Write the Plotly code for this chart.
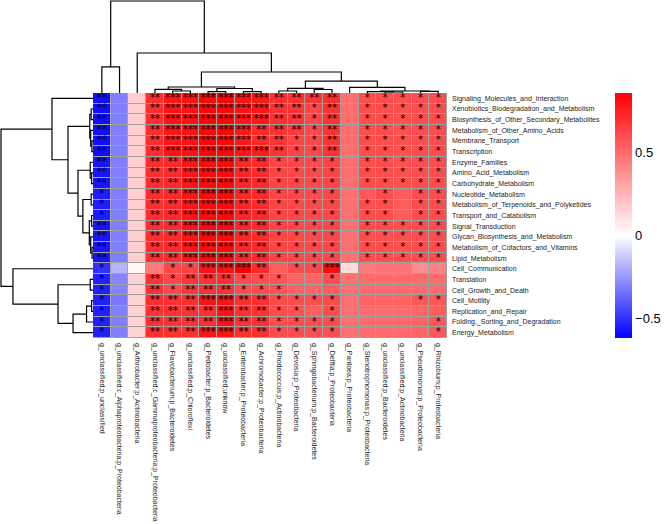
import plotly.graph_objects as go

W, H = 670, 524

col_labels = [
    "g_unclassified;p_unclassified",
    "g_unclassified;c_Alphaproteobacteria;p_Proteobacteria",
    "g_Arthrobacter;p_Actinobacteria",
    "g_unclassified;c_Gammaproteobacteria;p_Proteobacteria",
    "g_Flavobacterium;p_Bacteroidetes",
    "g_unclassified;p_Chloroflexi",
    "g_Pedobacter;p_Bacteroidetes",
    "g_unclassified;unknow",
    "g_Enterobacter;p_Proteobacteria",
    "g_Achromobacter;p_Proteobacteria",
    "g_Rhodococcus;p_Actinobacteria",
    "g_Devosia;p_Proteobacteria",
    "g_Sphingobacterium;p_Bacteroidetes",
    "g_Delftia;p_Proteobacteria",
    "g_Pantoea;p_Proteobacteria",
    "g_Stenotrophomonas;p_Proteobacteria",
    "g_unclassified;p_Bacteroidetes",
    "g_unclassified;p_Actinobacteria",
    "g_Pseudomonas;p_Proteobacteria",
    "g_Rhizobium;p_Proteobacteria",
]

row_labels = [
    "Signaling_Molecules_and_Interaction",
    "Xenobiotics_Biodegradation_and_Metabolism",
    "Biosynthesis_of_Other_Secondary_Metabolites",
    "Metabolism_of_Other_Amino_Acids",
    "Membrane_Transport",
    "Transcription",
    "Enzyme_Families",
    "Amino_Acid_Metabolism",
    "Carbohydrate_Metabolism",
    "Nucleotide_Metabolism",
    "Metabolism_of_Terpenoids_and_Polyketides",
    "Transport_and_Catabolism",
    "Signal_Transduction",
    "Glycan_Biosynthesis_and_Metabolism",
    "Metabolism_of_Cofactors_and_Vitamins",
    "Lipid_Metabolism",
    "Cell_Communication",
    "Translation",
    "Cell_Growth_and_Death",
    "Cell_Motility",
    "Replication_and_Repair",
    "Folding,_Sorting_and_Degradation",
    "Energy_Metabolism",
]

values = [
    [-0.58, -0.31, 0.17, 0.70, 0.79, 0.80, 0.84, 0.84, 0.80, 0.79, 0.70, 0.69, 0.68, 0.70, 0.49, 0.60, 0.60, 0.59, 0.60, 0.60],
    [-0.58, -0.31, 0.17, 0.70, 0.80, 0.80, 0.84, 0.84, 0.80, 0.79, 0.69, 0.68, 0.62, 0.69, 0.49, 0.60, 0.60, 0.59, 0.60, 0.60],
    [-0.58, -0.31, 0.17, 0.70, 0.80, 0.80, 0.84, 0.84, 0.79, 0.78, 0.69, 0.68, 0.62, 0.69, 0.49, 0.60, 0.60, 0.59, 0.60, 0.60],
    [-0.58, -0.31, 0.17, 0.70, 0.79, 0.80, 0.84, 0.84, 0.78, 0.72, 0.69, 0.67, 0.62, 0.69, 0.49, 0.60, 0.60, 0.59, 0.60, 0.60],
    [-0.58, -0.31, 0.17, 0.70, 0.79, 0.80, 0.84, 0.84, 0.78, 0.72, 0.68, 0.63, 0.62, 0.69, 0.49, 0.60, 0.60, 0.59, 0.60, 0.60],
    [-0.58, -0.31, 0.17, 0.70, 0.80, 0.80, 0.84, 0.84, 0.79, 0.77, 0.68, 0.63, 0.62, 0.69, 0.49, 0.60, 0.60, 0.59, 0.60, 0.60],
    [-0.57, -0.31, 0.17, 0.70, 0.72, 0.79, 0.83, 0.83, 0.73, 0.72, 0.63, 0.62, 0.61, 0.63, 0.49, 0.60, 0.60, 0.59, 0.60, 0.60],
    [-0.57, -0.31, 0.17, 0.70, 0.72, 0.79, 0.83, 0.83, 0.73, 0.72, 0.63, 0.62, 0.61, 0.63, 0.49, 0.60, 0.60, 0.59, 0.60, 0.60],
    [-0.57, -0.31, 0.17, 0.70, 0.72, 0.79, 0.83, 0.83, 0.73, 0.72, 0.63, 0.62, 0.61, 0.63, 0.49, 0.60, 0.60, 0.59, 0.60, 0.60],
    [-0.55, -0.31, 0.17, 0.70, 0.72, 0.79, 0.83, 0.83, 0.73, 0.72, 0.63, 0.62, 0.61, 0.62, 0.48, 0.56, 0.60, 0.55, 0.60, 0.60],
    [-0.55, -0.31, 0.17, 0.70, 0.72, 0.79, 0.83, 0.83, 0.73, 0.72, 0.63, 0.62, 0.61, 0.62, 0.48, 0.60, 0.60, 0.55, 0.60, 0.60],
    [-0.55, -0.31, 0.17, 0.70, 0.72, 0.79, 0.83, 0.83, 0.73, 0.72, 0.63, 0.62, 0.61, 0.62, 0.48, 0.60, 0.60, 0.55, 0.60, 0.60],
    [-0.57, -0.31, 0.17, 0.70, 0.72, 0.79, 0.83, 0.83, 0.73, 0.72, 0.63, 0.62, 0.61, 0.62, 0.48, 0.60, 0.60, 0.59, 0.60, 0.60],
    [-0.57, -0.31, 0.17, 0.70, 0.72, 0.79, 0.83, 0.83, 0.73, 0.72, 0.63, 0.62, 0.61, 0.62, 0.48, 0.60, 0.60, 0.59, 0.60, 0.60],
    [-0.57, -0.31, 0.17, 0.70, 0.72, 0.79, 0.83, 0.83, 0.73, 0.72, 0.63, 0.62, 0.61, 0.62, 0.48, 0.60, 0.60, 0.59, 0.60, 0.60],
    [-0.57, -0.31, 0.17, 0.70, 0.72, 0.79, 0.83, 0.83, 0.73, 0.72, 0.63, 0.62, 0.61, 0.62, 0.48, 0.60, 0.60, 0.59, 0.60, 0.60],
    [-0.50, -0.18, 0.03, 0.45, 0.62, 0.63, 0.80, 0.81, 0.86, 0.72, 0.55, 0.60, 0.61, 0.82, 0.12, 0.45, 0.47, 0.47, 0.38, 0.42],
    [-0.54, -0.30, 0.15, 0.69, 0.62, 0.68, 0.69, 0.70, 0.61, 0.60, 0.58, 0.53, 0.52, 0.60, 0.48, 0.50, 0.50, 0.50, 0.50, 0.50],
    [-0.54, -0.30, 0.15, 0.69, 0.61, 0.68, 0.69, 0.70, 0.60, 0.60, 0.58, 0.53, 0.52, 0.55, 0.48, 0.50, 0.50, 0.50, 0.50, 0.50],
    [-0.54, -0.33, 0.15, 0.70, 0.70, 0.70, 0.79, 0.80, 0.70, 0.70, 0.61, 0.60, 0.60, 0.61, 0.48, 0.52, 0.52, 0.52, 0.57, 0.57],
    [-0.54, -0.31, 0.15, 0.69, 0.69, 0.69, 0.70, 0.80, 0.69, 0.69, 0.60, 0.58, 0.54, 0.60, 0.48, 0.50, 0.50, 0.50, 0.52, 0.54],
    [-0.54, -0.31, 0.15, 0.69, 0.69, 0.69, 0.70, 0.80, 0.69, 0.69, 0.60, 0.60, 0.60, 0.60, 0.48, 0.50, 0.50, 0.50, 0.52, 0.57],
    [-0.54, -0.31, 0.15, 0.70, 0.70, 0.70, 0.79, 0.80, 0.70, 0.70, 0.60, 0.60, 0.60, 0.60, 0.48, 0.50, 0.50, 0.50, 0.52, 0.57],
]

# significance marks, "-" = none
star_rows = [
    "** - - ** *** *** *** *** *** *** ** ** ** ** - * * * * *",
    "** - - ** *** *** *** *** *** *** ** ** * ** - * * * * *",
    "** - - ** *** *** *** *** *** *** ** ** * ** - * * * * *",
    "** - - ** *** *** *** *** *** ** ** ** * ** - * * * * *",
    "** - - ** *** *** *** *** *** ** ** * * ** - * * * * *",
    "** - - ** *** *** *** *** *** *** ** * * ** - * * * * *",
    "** - - ** ** *** *** *** ** ** * * * * - * * * * *",
    "** - - ** ** *** *** *** ** ** * * * * - * * * * *",
    "** - - ** ** *** *** *** ** ** * * * * - * * * * *",
    "* - - ** ** *** *** *** ** ** * * * * - - * - * *",
    "* - - ** ** *** *** *** ** ** * * * * - * * - * *",
    "* - - ** ** *** *** *** ** ** * * * * - * * - * *",
    "** - - ** ** *** *** *** ** ** * * * * - * * * * *",
    "** - - ** ** *** *** *** ** ** * * * * - * * * * *",
    "** - - ** ** *** *** *** ** ** * * * * - * * * * *",
    "** - - ** ** *** *** *** ** ** * * * * - * * * * *",
    "* - - - * * *** *** *** ** - * * *** - - - - - -",
    "* - - ** * ** ** ** * * * - - * - - - - - -",
    "* - - ** * ** ** ** * * * - - - - - - - - -",
    "* - - ** ** ** *** *** ** ** * * * * - - - - * *",
    "* - - ** ** ** ** *** ** ** * * - * - - - - - -",
    "* - - ** ** ** ** *** ** ** * * * * - - - - - *",
    "* - - ** ** ** *** *** ** ** * * * * - - - - - *",
]
stars = [["" if s == "-" else s for s in r.split()] for r in star_rows]

# hierarchical merges (R hclust style): negative = leaf (1-based), positive = earlier merge
row_merges = [
    (-2, -3, 0.020), (-5, -6, 0.012), (-4, 2, 0.025), (1, 3, 0.035),
    (-8, -9, 0.015), (-7, 5, 0.030),
    (-10, -11, 0.020), (-12, -13, 0.015), (-15, -16, 0.010), (-14, 9, 0.025),
    (8, 10, 0.040), (7, 11, 0.110), (6, 12, 0.163), (4, 13, 0.272),
    (-1, 14, 0.446),
    (-18, -19, 0.030), (-20, -21, 0.015), (17, -22, 0.070), (18, -23, 0.217),
    (16, 19, 0.380), (-17, 20, 0.870), (15, 21, 1.000),
]
col_merges = [
    (-1, -2, 0.283), (-5, -6, 0.022), (-4, 2, 0.040), (-7, -8, 0.014),
    (-9, -10, 0.014), (4, 5, 0.049), (3, 6, 0.065), (-11, -12, 0.022),
    (-13, -14, 0.038), (8, 9, 0.051), (-17, -18, 0.011), (-16, 11, 0.016),
    (-19, -20, 0.018), (12, 13, 0.022), (-15, 14, 0.062), (10, 15, 0.130),
    (7, 16, 0.228), (-3, 17, 0.435), (1, 18, 1.000),
]


def dendro_segments(merges):
    pos, hgt = {}, {}

    def get(ref):
        if ref < 0:
            return float(-ref - 1), 0.0
        return pos[ref], hgt[ref]

    ps, hs = [], []
    for k, (a, b, h) in enumerate(merges, start=1):
        pa, ha = get(a)
        pb, hb = get(b)
        ps += [pa, pa, pb, pb, None]
        hs += [ha, h, h, hb, None]
        pos[k] = (pa + pb) / 2
        hgt[k] = h
    return ps, hs


FONT = "Liberation Sans, Arial, sans-serif"
zmin, zmax = -0.62, 0.86
white_at = (0 - zmin) / (zmax - zmin)

hm_left, hm_right, hm_top, hm_bottom = 93, 447, 93, 338
nrow, ncol = len(row_labels), len(col_labels)

fig = go.Figure()

fig.add_trace(go.Heatmap(
    z=values, x=list(range(ncol)), y=list(range(nrow)),
    colorscale=[[0, "#0000ff"], [white_at, "#ffffff"], [1, "#ff0000"]],
    zmin=zmin, zmax=zmax, xgap=1, ygap=1,
    colorbar=dict(
        x=615 / W, xanchor="left", xpad=0,
        y=1 - hm_top / H, yanchor="top", ypad=0,
        len=(hm_bottom - hm_top) / H, lenmode="fraction",
        thickness=17, outlinewidth=0, ticks="",
        tickvals=[-0.5, 0, 0.5], ticktext=["\u22120.5", "0", "0.5"],
        tickfont=dict(size=13, family=FONT, color="black"),
    ),
    hoverinfo="skip",
))

# significance stars as text marks placed on the heatmap's axes
sx, sy, st = [], [], []
for i, row in enumerate(stars):
    for j, s in enumerate(row):
        if s:
            sx.append(j)
            sy.append(i)
            st.append(s)
fig.add_trace(go.Scatter(x=sx, y=sy, text=st, mode="text",
                         textposition="middle center",
                         textfont=dict(size=10, color="#000000",
                                       family="DejaVu Sans, sans-serif"),
                         hoverinfo="skip", showlegend=False))

rp, rh = dendro_segments(row_merges)
fig.add_trace(go.Scatter(x=rh, y=rp, mode="lines", xaxis="x2", yaxis="y2",
                         line=dict(color="black", width=1.2), hoverinfo="skip",
                         showlegend=False))
cp, ch = dendro_segments(col_merges)
fig.add_trace(go.Scatter(x=cp, y=ch, mode="lines", xaxis="x3", yaxis="y3",
                         line=dict(color="black", width=1.2), hoverinfo="skip",
                         showlegend=False))

xdom = [hm_left / W, hm_right / W]
ydom = [1 - hm_bottom / H, 1 - hm_top / H]
hscale = hm_top / (hm_top - 1)

fig.add_shape(type="rect", xref="x domain", yref="y domain", x0=0, x1=1, y0=0, y1=1,
              fillcolor="#a0a0a0", line=dict(width=0), layer="below")

fig.update_layout(
    width=W, height=H, autosize=False,
    margin=dict(l=0, r=0, t=0, b=0),
    paper_bgcolor="white", plot_bgcolor="white",
    font=dict(family=FONT, color="black"),
    showlegend=False,
    hovermode=False,
    xaxis=dict(domain=xdom, range=[-0.5, ncol - 0.5], anchor="y",
               tickmode="array", tickvals=list(range(ncol)), ticktext=col_labels,
               tickangle=90, side="bottom", ticks="", showgrid=False, zeroline=False,
               showline=False, tickfont=dict(size=7, family=FONT, color="#222"),
               automargin=False, ticklabelstandoff=4),
    yaxis=dict(domain=ydom, range=[nrow - 0.5, -0.5], anchor="x",
               tickmode="array", tickvals=list(range(nrow)), ticktext=row_labels,
               side="right", ticks="", showgrid=False, zeroline=False, showline=False,
               tickfont=dict(size=7, family=FONT, color="#222"),
               automargin=False, ticklabelstandoff=4),
    xaxis2=dict(domain=[0, hm_left / W], range=[hscale, 0], anchor="y2", visible=False),
    yaxis2=dict(domain=ydom, range=[nrow - 0.5, -0.5], anchor="x2", visible=False),
    xaxis3=dict(domain=xdom, range=[-0.5, ncol - 0.5], anchor="y3", visible=False),
    yaxis3=dict(domain=[1 - hm_top / H, 1], range=[0, hscale], anchor="x3", visible=False),
)

fig.write_html(
    "out.html",
    config={"displayModeBar": False, "staticPlot": True},
    post_script="document.body.style.margin='0';document.body.style.padding='0';",
)
